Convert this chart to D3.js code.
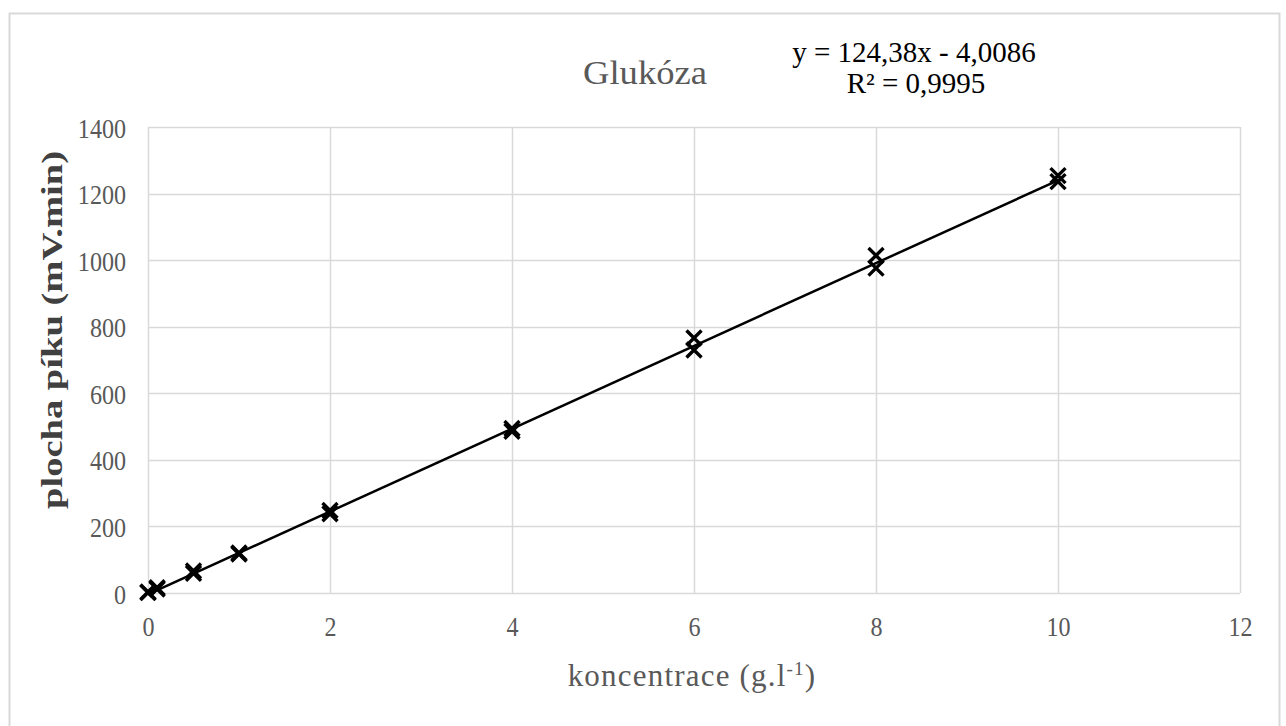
<!DOCTYPE html>
<html>
<head>
<meta charset="utf-8">
<script src="https://cdn.jsdelivr.net/npm/d3@7"></script>
<style>
  body { margin: 0; background: #fff; }
  text { font-family: "Liberation Serif", "DejaVu Serif", serif; }
</style>
</head>
<body>
<div id="chart"></div>
<script>
// koncentrace (g/l) a plocha píku (mV.min)
const concentrations = [0, 0, 0.1, 0.1, 0.5, 0.5, 1, 1, 2, 2, 4, 4, 6, 6, 8, 8, 10, 10];
const areas = [1, 3, 12, 16, 59, 66, 117, 120, 238, 248, 486, 494, 730, 766, 976, 1014, 1236, 1254];
const xTicks = [0, 2, 4, 6, 8, 10, 12];
const yTicks = [0, 200, 400, 600, 800, 1000, 1200, 1400];
const slope = 124.38, intercept = -4.0086;
const fitRange = [0, 10];

const W = 1286, H = 726;
const margin = { top: 127, right: 46, bottom: 133, left: 148 };
const width = W - margin.left - margin.right;
const height = H - margin.top - margin.bottom;

const svg = d3.select("#chart").append("svg")
  .attr("width", W).attr("height", H);

svg.append("rect")
  .attr("x", 9.5).attr("y", 13.5)
  .attr("width", 1270).attr("height", 730)
  .attr("fill", "#fff").attr("stroke", "#d9d9d9").attr("stroke-width", 2);

const x = d3.scaleLinear().domain([0, 12]).range([0, width]);
const y = d3.scaleLinear().domain([0, 1400]).range([height, 0]);

const g = svg.append("g").attr("transform", `translate(${margin.left},${margin.top})`);

// mřížka
g.append("g").selectAll("line").data(yTicks).join("line")
  .attr("x1", 0).attr("x2", width)
  .attr("y1", d => Math.round(y(d)) + 0.5).attr("y2", d => Math.round(y(d)) + 0.5)
  .attr("stroke", "#d9d9d9").attr("stroke-width", 1.5);
g.append("g").selectAll("line").data(xTicks).join("line")
  .attr("y1", 0).attr("y2", height)
  .attr("x1", d => Math.round(x(d)) + 0.5).attr("x2", d => Math.round(x(d)) + 0.5)
  .attr("stroke", "#d9d9d9").attr("stroke-width", 1.5);

// zúžené písmo jako v originále
function condense(sel, k) {
  sel.each(function () {
    const w = this.getComputedTextLength();
    d3.select(this).attr("textLength", w * k).attr("lengthAdjust", "spacingAndGlyphs");
  });
}

// popisky os
const xAxis = d3.axisBottom(x).tickValues(xTicks).tickFormat(d3.format("d")).tickSize(0).tickPadding(22);
const yAxis = d3.axisLeft(y).tickValues(yTicks).tickFormat(d3.format("d")).tickSize(0).tickPadding(22);
const gx = g.append("g").attr("transform", `translate(0,${height})`).call(xAxis);
const gy = g.append("g").call(yAxis);
[gx, gy].forEach(a => {
  a.select(".domain").remove();
  a.selectAll("text").attr("fill", "#595959").style("font-size", "28px")
    .style("font-family", "'Liberation Serif', serif");
  condense(a.selectAll("text"), 0.86);
});
gy.selectAll("text").attr("dy", "0.36em");
gx.selectAll("text").attr("dy", "0.75em");

// regresní přímka
const line = d3.line().x(d => x(d)).y(d => y(slope * d + intercept));
g.append("path").datum(fitRange)
  .attr("d", line).attr("fill", "none")
  .attr("stroke", "#000").attr("stroke-width", 2.5);

// body
const s = 7.5;
g.append("g").selectAll("path")
  .data(concentrations.map((c, i) => [c, areas[i]])).join("path")
  .attr("d", d => {
    const cx = x(d[0]), cy = y(d[1]);
    return `M${cx - s},${cy - s}L${cx + s},${cy + s}M${cx - s},${cy + s}L${cx + s},${cy - s}`;
  })
  .attr("stroke", "#000").attr("stroke-width", 3.4).attr("fill", "none");

// titulky
svg.append("text").attr("x", 645).attr("y", 84)
  .attr("text-anchor", "middle").style("font-size", "34px").attr("fill", "#595959")
  .attr("textLength", 124).attr("lengthAdjust", "spacingAndGlyphs")
  .text("Glukóza");
svg.append("text").attr("x", 914).attr("y", 62)
  .attr("text-anchor", "middle").style("font-size", "29px").attr("fill", "#000")
  .text("y = 124,38x - 4,0086");
svg.append("text").attr("x", 916).attr("y", 93)
  .attr("text-anchor", "middle").style("font-size", "29px").attr("fill", "#000")
  .text("R² = 0,9995");

svg.append("text")
  .attr("transform", `translate(62,330) rotate(-90)`)
  .attr("text-anchor", "middle").style("font-size", "30px").style("font-weight", "bold")
  .attr("fill", "#404040")
  .attr("textLength", 358).attr("lengthAdjust", "spacingAndGlyphs")
  .text("plocha píku (mV.min)");

const xt = svg.append("text").attr("x", 692).attr("y", 686)
  .attr("text-anchor", "middle").style("font-size", "31px").attr("fill", "#595959")
  .style("letter-spacing", "1.2px");
xt.append("tspan").text("koncentrace (g.l");
xt.append("tspan").attr("dy", -11).style("font-size", "19px").text("-1");
xt.append("tspan").attr("dy", 11).text(")");
</script>
</body>
</html>
